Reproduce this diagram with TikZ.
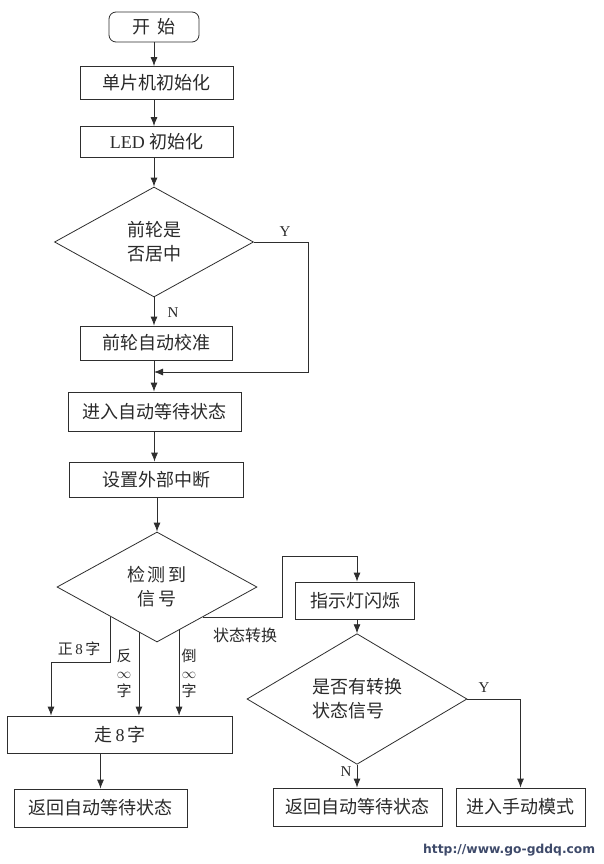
\documentclass[tikz,border=0pt]{standalone}
\usepackage{fontspec}
\setmainfont{Liberation Serif}
\newfontfamily\cjk{Noto Sans CJK SC}
\newfontfamily\wmfont{DejaVu Sans}
\usetikzlibrary{shapes.geometric,arrows.meta,calc}
\definecolor{linec}{HTML}{2E2E2E}
\definecolor{textc}{HTML}{2A2A2A}
\definecolor{wmc}{HTML}{3E4A6A}
\begin{document}
\begin{tikzpicture}[x=1pt,y=-1pt,
  box/.style={draw=linec, line width=0.8pt, inner sep=0pt, text=textc,
    font=\cjk\fontsize{18}{23}\selectfont},
  dia/.style={draw=linec, line width=0.8pt, shape=diamond, inner sep=0pt, text=textc,
    font=\cjk\fontsize{18}{24}\selectfont},
  arr/.style={draw=linec, line width=0.8pt, -{Latex[length=9pt,width=7pt]}},
  lab/.style={text=textc, inner sep=0pt, font=\cjk\fontsize{15}{17.5}\selectfont},
  yn/.style={text=textc, inner sep=0pt, font=\rmfamily\fontsize{15}{17}\selectfont}]
\useasboundingbox[fill=white] (0,0) rectangle (603,864);

% main column
\node[box, rounded corners=7pt, minimum width=90pt, minimum height=30pt] (start) at (154,27) {开\hspace{7pt}始};
\node[box, minimum width=153pt, minimum height=33pt] (init) at (156.5,83) {单片机初始化};
\node[box, minimum width=153pt, minimum height=31pt] (led) at (156.5,142) {{\rmfamily LED} 初始化};
\node[dia, align=center, minimum width=199pt, minimum height=110pt] (d1) at (154,242) {前轮是\\否居中};
\node[box, minimum width=152pt, minimum height=34pt] (cal) at (156,343) {前轮自动校准};
\node[box, minimum width=173pt, minimum height=39pt] (wait) at (154.5,411.5) {进入自动等待状态};
\node[box, minimum width=174pt, minimum height=35pt] (intr) at (156,479.5) {设置外部中断};
\node[dia, align=center, minimum width=200pt, minimum height=110pt] (d2) at (157,587) {检\hspace{3pt}测\hspace{3pt}到\\信\hspace{3pt}号};
\node[box, minimum width=225pt, minimum height=37pt] (walk) at (120,734.5) {走\,{\rmfamily 8}\,字\hspace{22pt}};
\node[box, minimum width=173pt, minimum height=38pt] (back1) at (100.5,808) {返回自动等待状态};

% right column
\node[box, minimum width=119pt, minimum height=37pt] (flash) at (355,600.5) {指示灯闪烁};
\node[dia, align=left, minimum width=220pt, minimum height=111pt] (d3) at (357,699) {是否有转换\\状态信号};
\node[box, minimum width=169pt, minimum height=38pt] (back2) at (357.5,807) {返回自动等待状态};
\node[box, minimum width=129pt, minimum height=38pt] (manual) at (520.5,807) {进入手动模式};

% connectors, main column
\draw[arr] (start.south) -- (start.south |- init.north);
\draw[arr] (start.south |- init.south) -- (start.south |- led.north);
\draw[arr] (start.south |- led.south) -- (d1.north);
\draw[arr] (d1.south) -- (d1.south |- cal.north);
\coordinate (yc) at (308,372);
\coordinate (ym) at (154,372);
\draw[arr] (d1.east) -| (yc) -- (ym);
\draw[arr] (d1.south |- cal.south) -- (d1.south |- wait.north);
\draw[arr] (wait.south) -- (wait.south |- intr.north);
\draw[arr] (d2.north |- intr.south) -- (d2.north);

% branches of d2
\coordinate (p1) at ($(d2.south)!0.46!(d2.west)$);
\coordinate (k1) at (51,662);
\draw[arr] (p1) |- (k1) -- (k1 |- walk.north);
\coordinate (p2) at ($(d2.south)!0.18!(d2.west)$);
\draw[arr] (p2) -- (p2 |- walk.north);
\coordinate (p3) at ($(d2.south)!0.22!(d2.east)$);
\draw[arr] (p3) -- (p3 |- walk.north);
\coordinate (p4) at ($(d2.south)!0.46!(d2.east)$);
\coordinate (k2) at (282,556);
\draw[arr] (p4) -| (k2) -| (d3.north |- flash.north);
\draw[arr] (back1.north |- walk.south) -- (back1.north);

% right column connectors
\draw[arr] (d3.north |- flash.south) -- (d3.north);
\draw[arr] (d3.east) -| (manual.north);
\draw[arr] (d3.south) -- (d3.south |- back2.north);

% labels
\node[yn] (ly1) at (285,232) {Y};
\node[yn] (ln1) at (173,313) {N};
\node[yn] (ly2) at (484,688) {Y};
\node[yn] (ln2) at (346,772) {N};
\node[lab] (lzheng) at (79,649) {正\,{\rmfamily 8}\,字};
\node[lab, align=center] (lfan) at (124,673) {反\\{\fontsize{15}{15}\selectfont$\infty$}\\字};
\node[lab, align=center] (ldao) at (189,673) {倒\\{\fontsize{15}{15}\selectfont$\infty$}\\字};
\node[lab, font=\cjk\fontsize{16}{18}\selectfont] (lzh) at (245,635) {状态转换};

\node[anchor=west, inner sep=0pt, text=wmc, font=\wmfont\bfseries\fontsize{12.3}{14}\selectfont] (wm) at (423,850) {http://www.go-gddq.com};
\end{tikzpicture}
\end{document}
